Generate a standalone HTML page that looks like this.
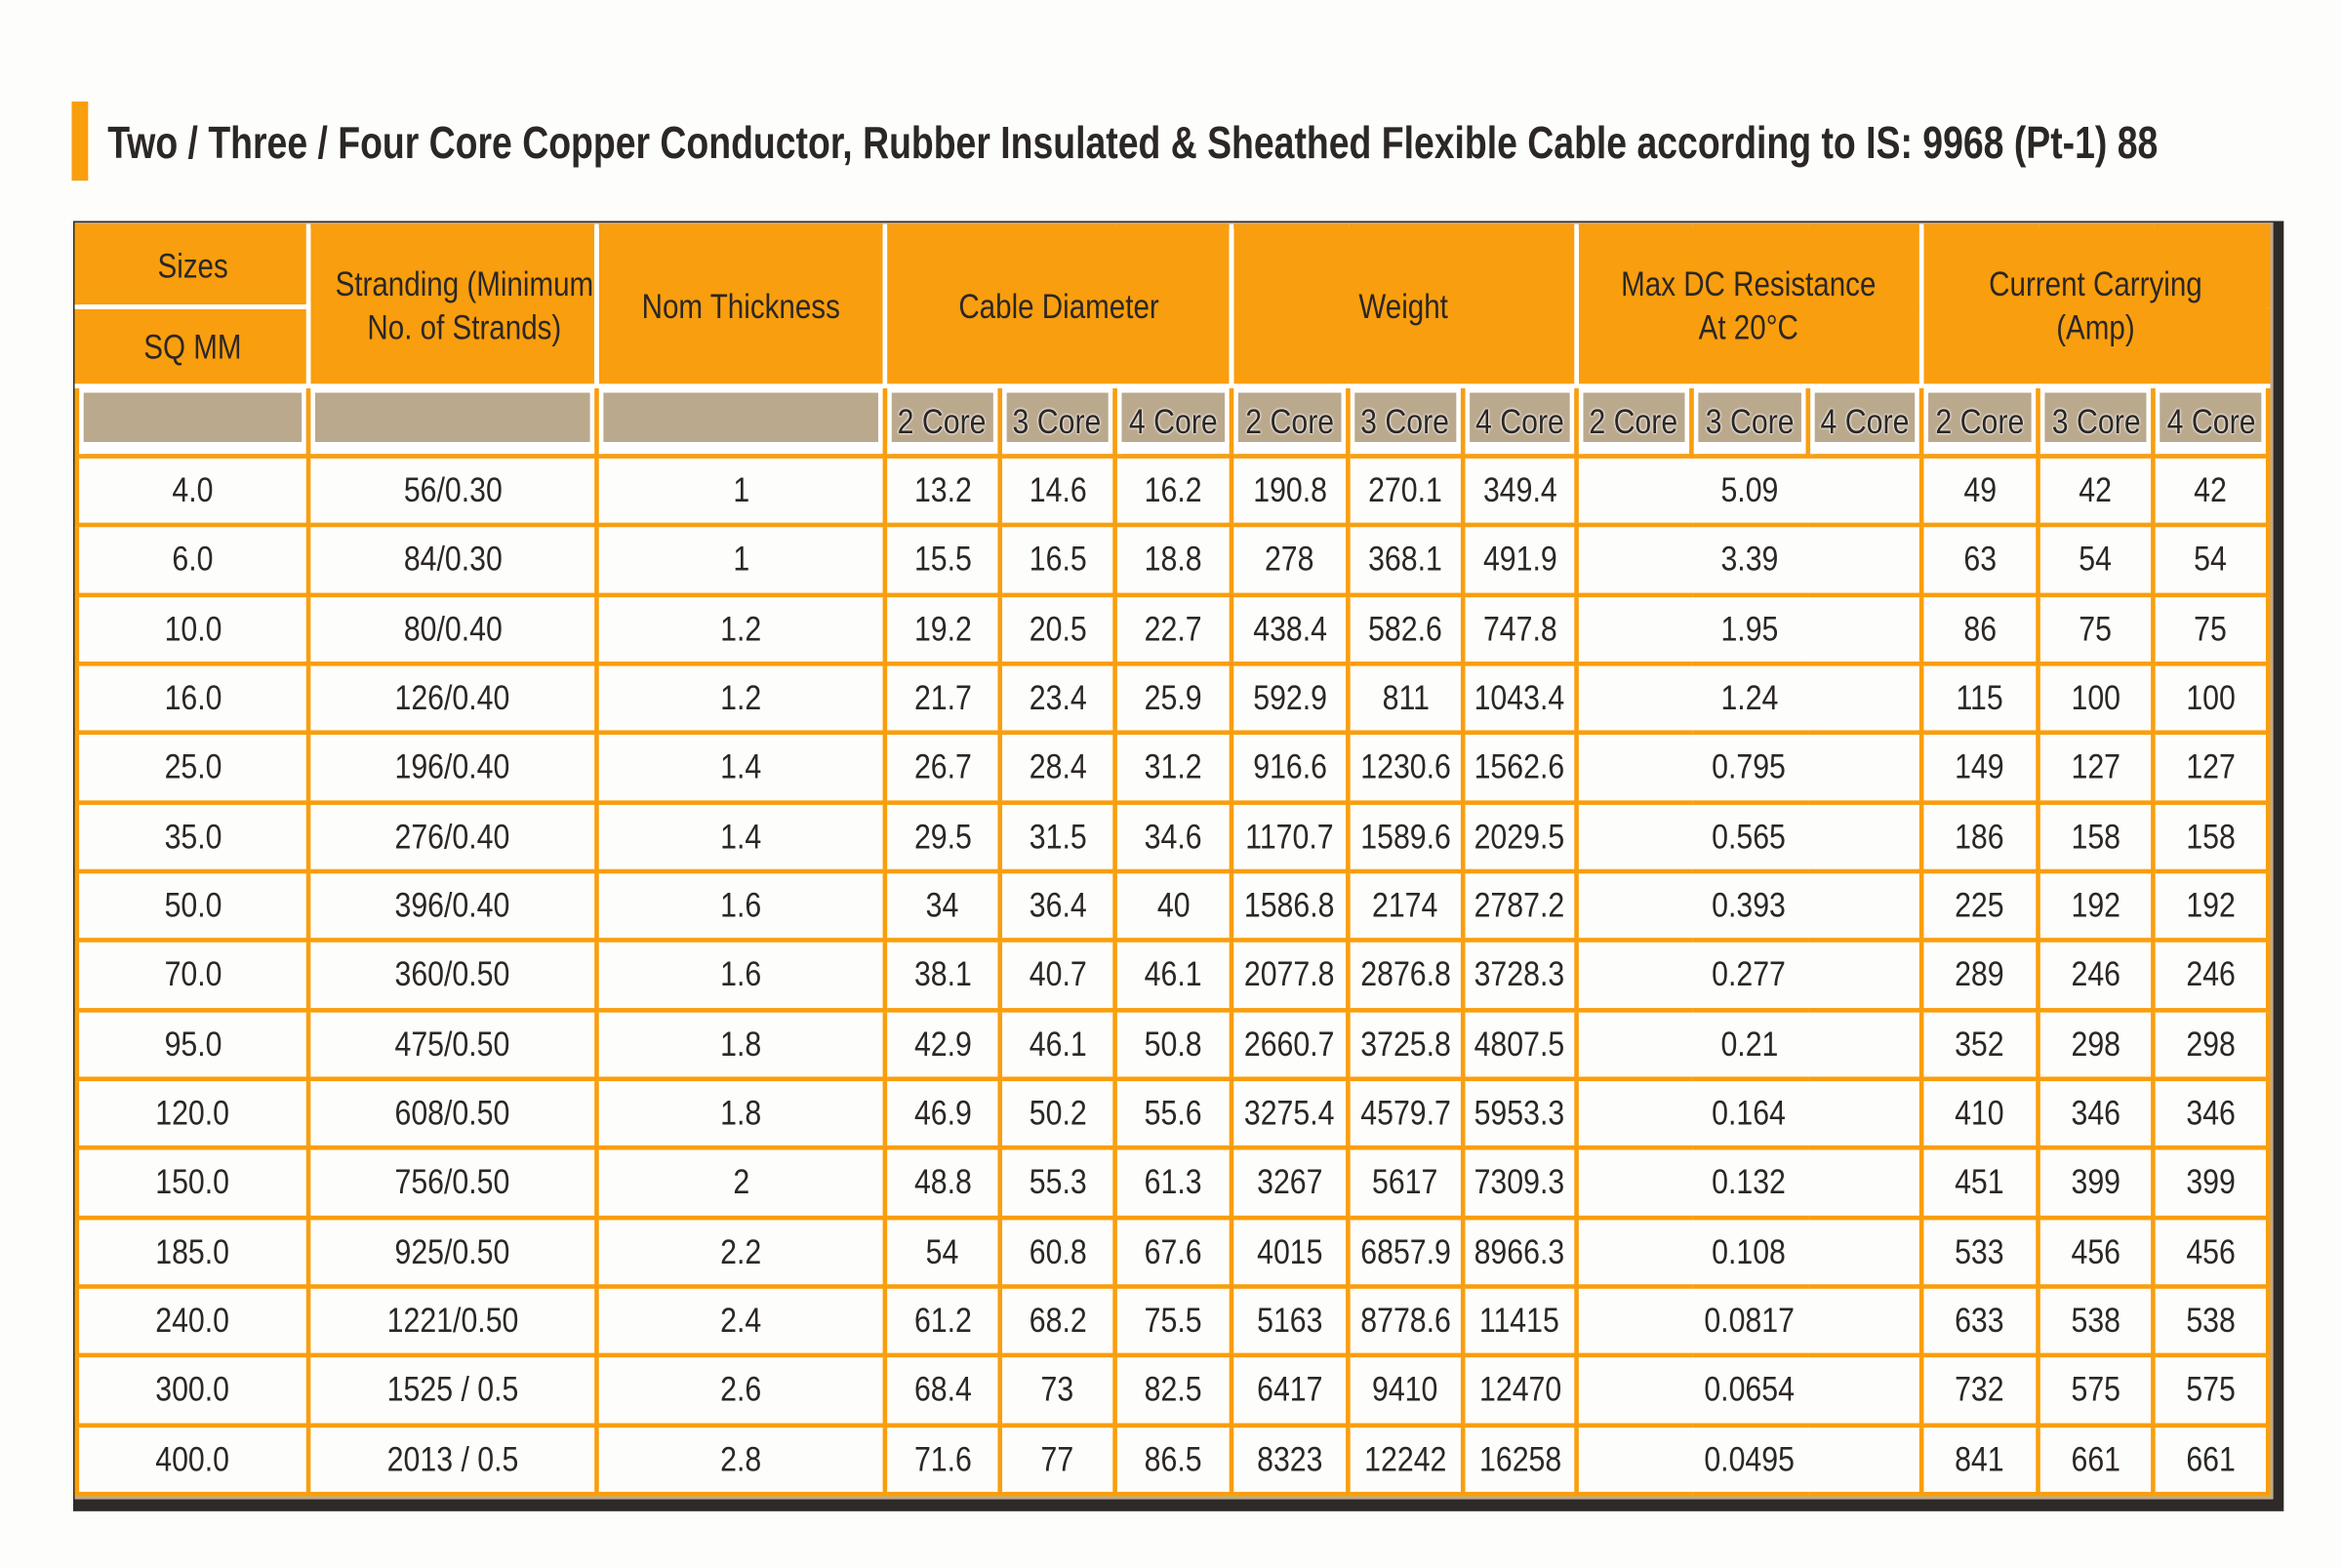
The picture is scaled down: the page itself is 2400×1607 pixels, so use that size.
<!DOCTYPE html>
<html><head><meta charset="utf-8">
<style>
html,body{margin:0;padding:0;background:#fdfdfb;}
body{width:2400px;height:1607px;overflow:hidden;}
#w{position:absolute;left:0;top:0;width:1568px;height:1050px;transform:scale(1.530612,1.530476);transform-origin:0 0;font-family:"Liberation Sans",Arial,sans-serif;color:#2b2725;}
.bar{position:absolute;left:48px;top:68px;width:11px;height:53px;background:#f99e0e;}
.title{position:absolute;left:72px;top:79px;font-weight:bold;font-size:30px;white-space:nowrap;transform:scaleX(0.814);transform-origin:0 0;line-height:36px;}
.dark{position:absolute;left:49px;top:148px;width:1480px;height:864px;background:#2d2a28;}
.beige{position:absolute;left:50px;top:149px;width:1472px;height:855px;background:#bba98e;}
table{position:absolute;left:50px;top:150px;border-collapse:collapse;table-layout:fixed;width:1467px;background:#fdfdfb;}
td{padding:0;text-align:center;font-size:23px;border:3px solid #f99e0e;overflow:hidden;white-space:nowrap;}
td span{display:inline-block;transform:scaleX(0.86);}
tr.d td{height:43.33px;}
tr.h td{background:#f99e0e;border:3px solid #fff;line-height:29px;}
tr.h td span{transform:scaleX(0.84);}
tr.h1 td{border-top:3px solid #f99e0e;}
tr.h td.fl{border-left:3px solid #f99e0e;}
tr.h td.fr{border-right:3px solid #f99e0e;}
tr.s td{height:44px;background:#bba98e;border:3px solid #f99e0e;box-shadow:inset 3px 3px 0 #fff,inset -3px -8px 0 #fff;padding-bottom:0;}
tr.s td span{text-shadow:0 0 2px #fff,0 0 2px #fff;}
</style></head><body><div id="w">
<div class="bar"></div>
<div class="title">Two / Three / Four Core Copper Conductor, Rubber Insulated &amp; Sheathed Flexible Cable according to IS: 9968 (Pt-1) 88</div>
<div class="dark"></div><div class="beige"></div>
<table>
<colgroup><col style="width:155px"><col style="width:193px"><col style="width:193px"><col style="width:77px"><col style="width:77px"><col style="width:78px"><col style="width:78px"><col style="width:77px"><col style="width:76px"><col style="width:77px"><col style="width:78px"><col style="width:76px"><col style="width:78px"><col style="width:77px"><col style="width:77px"></colgroup>
<tr class="h h1" style="height:54px"><td class="fl"><span>Sizes</span></td><td rowspan="2"><span>Stranding (Minimum<br>No. of Strands)</span></td><td rowspan="2"><span>Nom Thickness</span></td><td colspan="3" rowspan="2"><span>Cable Diameter</span></td><td colspan="3" rowspan="2"><span>Weight</span></td><td colspan="3" rowspan="2"><span>Max DC Resistance<br>At 20°C</span></td><td colspan="3" rowspan="2" class="fr"><span>Current Carrying<br>(Amp)</span></td></tr>
<tr class="h" style="height:53px"><td class="fl"><span>SQ MM</span></td></tr>
<tr class="s"><td></td><td></td><td></td><td><span>2 Core</span></td><td><span>3 Core</span></td><td><span>4 Core</span></td><td><span>2 Core</span></td><td><span>3 Core</span></td><td><span>4 Core</span></td><td><span>2 Core</span></td><td><span>3 Core</span></td><td><span>4 Core</span></td><td><span>2 Core</span></td><td><span>3 Core</span></td><td><span>4 Core</span></td></tr>
<tr class="d"><td><span>4.0</span></td><td><span>56/0.30</span></td><td><span>1</span></td><td><span>13.2</span></td><td><span>14.6</span></td><td><span>16.2</span></td><td><span>190.8</span></td><td><span>270.1</span></td><td><span>349.4</span></td><td colspan="3"><span>5.09</span></td><td><span>49</span></td><td><span>42</span></td><td><span>42</span></td></tr>
<tr class="d"><td><span>6.0</span></td><td><span>84/0.30</span></td><td><span>1</span></td><td><span>15.5</span></td><td><span>16.5</span></td><td><span>18.8</span></td><td><span>278</span></td><td><span>368.1</span></td><td><span>491.9</span></td><td colspan="3"><span>3.39</span></td><td><span>63</span></td><td><span>54</span></td><td><span>54</span></td></tr>
<tr class="d"><td><span>10.0</span></td><td><span>80/0.40</span></td><td><span>1.2</span></td><td><span>19.2</span></td><td><span>20.5</span></td><td><span>22.7</span></td><td><span>438.4</span></td><td><span>582.6</span></td><td><span>747.8</span></td><td colspan="3"><span>1.95</span></td><td><span>86</span></td><td><span>75</span></td><td><span>75</span></td></tr>
<tr class="d"><td><span>16.0</span></td><td><span>126/0.40</span></td><td><span>1.2</span></td><td><span>21.7</span></td><td><span>23.4</span></td><td><span>25.9</span></td><td><span>592.9</span></td><td><span>811</span></td><td><span>1043.4</span></td><td colspan="3"><span>1.24</span></td><td><span>115</span></td><td><span>100</span></td><td><span>100</span></td></tr>
<tr class="d"><td><span>25.0</span></td><td><span>196/0.40</span></td><td><span>1.4</span></td><td><span>26.7</span></td><td><span>28.4</span></td><td><span>31.2</span></td><td><span>916.6</span></td><td><span>1230.6</span></td><td><span>1562.6</span></td><td colspan="3"><span>0.795</span></td><td><span>149</span></td><td><span>127</span></td><td><span>127</span></td></tr>
<tr class="d"><td><span>35.0</span></td><td><span>276/0.40</span></td><td><span>1.4</span></td><td><span>29.5</span></td><td><span>31.5</span></td><td><span>34.6</span></td><td><span>1170.7</span></td><td><span>1589.6</span></td><td><span>2029.5</span></td><td colspan="3"><span>0.565</span></td><td><span>186</span></td><td><span>158</span></td><td><span>158</span></td></tr>
<tr class="d"><td><span>50.0</span></td><td><span>396/0.40</span></td><td><span>1.6</span></td><td><span>34</span></td><td><span>36.4</span></td><td><span>40</span></td><td><span>1586.8</span></td><td><span>2174</span></td><td><span>2787.2</span></td><td colspan="3"><span>0.393</span></td><td><span>225</span></td><td><span>192</span></td><td><span>192</span></td></tr>
<tr class="d"><td><span>70.0</span></td><td><span>360/0.50</span></td><td><span>1.6</span></td><td><span>38.1</span></td><td><span>40.7</span></td><td><span>46.1</span></td><td><span>2077.8</span></td><td><span>2876.8</span></td><td><span>3728.3</span></td><td colspan="3"><span>0.277</span></td><td><span>289</span></td><td><span>246</span></td><td><span>246</span></td></tr>
<tr class="d"><td><span>95.0</span></td><td><span>475/0.50</span></td><td><span>1.8</span></td><td><span>42.9</span></td><td><span>46.1</span></td><td><span>50.8</span></td><td><span>2660.7</span></td><td><span>3725.8</span></td><td><span>4807.5</span></td><td colspan="3"><span>0.21</span></td><td><span>352</span></td><td><span>298</span></td><td><span>298</span></td></tr>
<tr class="d"><td><span>120.0</span></td><td><span>608/0.50</span></td><td><span>1.8</span></td><td><span>46.9</span></td><td><span>50.2</span></td><td><span>55.6</span></td><td><span>3275.4</span></td><td><span>4579.7</span></td><td><span>5953.3</span></td><td colspan="3"><span>0.164</span></td><td><span>410</span></td><td><span>346</span></td><td><span>346</span></td></tr>
<tr class="d"><td><span>150.0</span></td><td><span>756/0.50</span></td><td><span>2</span></td><td><span>48.8</span></td><td><span>55.3</span></td><td><span>61.3</span></td><td><span>3267</span></td><td><span>5617</span></td><td><span>7309.3</span></td><td colspan="3"><span>0.132</span></td><td><span>451</span></td><td><span>399</span></td><td><span>399</span></td></tr>
<tr class="d"><td><span>185.0</span></td><td><span>925/0.50</span></td><td><span>2.2</span></td><td><span>54</span></td><td><span>60.8</span></td><td><span>67.6</span></td><td><span>4015</span></td><td><span>6857.9</span></td><td><span>8966.3</span></td><td colspan="3"><span>0.108</span></td><td><span>533</span></td><td><span>456</span></td><td><span>456</span></td></tr>
<tr class="d"><td><span>240.0</span></td><td><span>1221/0.50</span></td><td><span>2.4</span></td><td><span>61.2</span></td><td><span>68.2</span></td><td><span>75.5</span></td><td><span>5163</span></td><td><span>8778.6</span></td><td><span>11415</span></td><td colspan="3"><span>0.0817</span></td><td><span>633</span></td><td><span>538</span></td><td><span>538</span></td></tr>
<tr class="d"><td><span>300.0</span></td><td><span>1525 / 0.5</span></td><td><span>2.6</span></td><td><span>68.4</span></td><td><span>73</span></td><td><span>82.5</span></td><td><span>6417</span></td><td><span>9410</span></td><td><span>12470</span></td><td colspan="3"><span>0.0654</span></td><td><span>732</span></td><td><span>575</span></td><td><span>575</span></td></tr>
<tr class="d"><td><span>400.0</span></td><td><span>2013 / 0.5</span></td><td><span>2.8</span></td><td><span>71.6</span></td><td><span>77</span></td><td><span>86.5</span></td><td><span>8323</span></td><td><span>12242</span></td><td><span>16258</span></td><td colspan="3"><span>0.0495</span></td><td><span>841</span></td><td><span>661</span></td><td><span>661</span></td></tr>
</table>
</div></body></html>
